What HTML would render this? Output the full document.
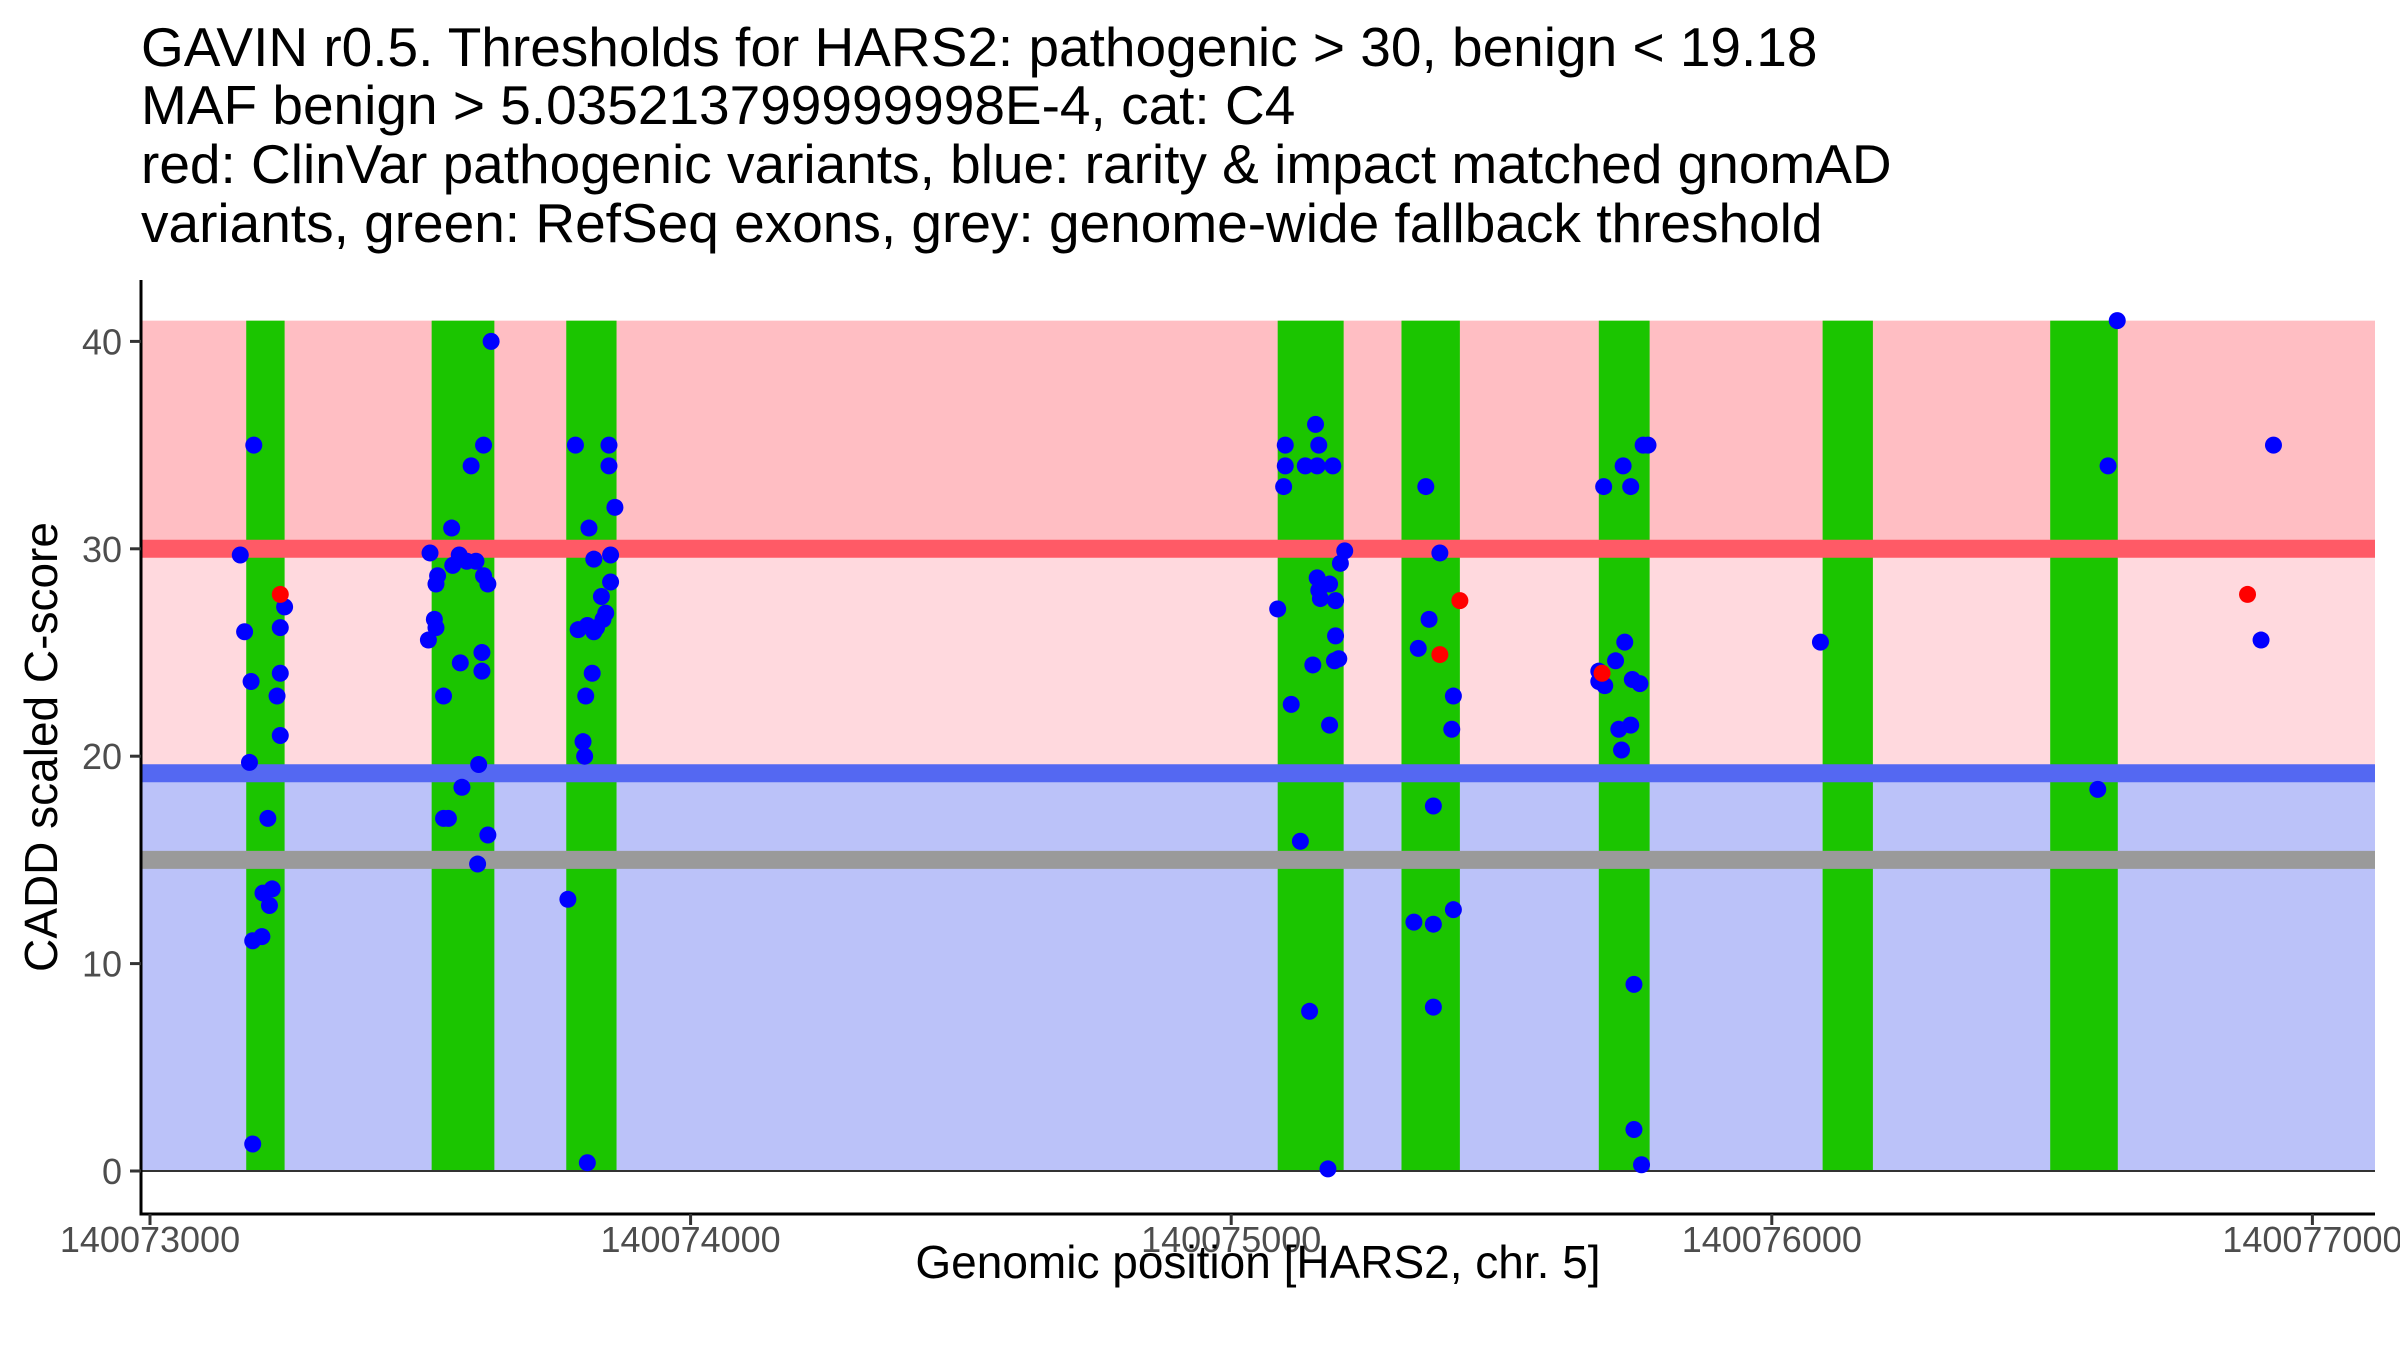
<!DOCTYPE html>
<html><head><meta charset="utf-8"><style>
body{margin:0;background:#fff}
svg text{font-family:"Liberation Sans",Arial,sans-serif}
</style></head><body>
<svg id="chart" width="2400" height="1350" viewBox="0 0 2400 1350" xmlns="http://www.w3.org/2000/svg">
<g font-size="55" fill="#000">
<text x="141" y="66">GAVIN r0.5. Thresholds for HARS2: pathogenic &gt; 30, benign &lt; 19.18</text>
<text x="141" y="124">MAF benign &gt; 5.035213799999998E-4, cat: C4</text>
<text x="141" y="183">red: ClinVar pathogenic variants, blue: rarity &amp; impact matched gnomAD</text>
<text x="141" y="242">variants, green: RefSeq exons, grey: genome-wide fallback threshold</text>
</g>
<g id="bands"></g>
<g id="exons"></g>
<g id="lines"></g>
<g id="points"></g>
<g id="axes"></g>
<text x="1258" y="1278" font-size="46" text-anchor="middle" fill="#000">Genomic position [HARS2, chr. 5]</text>
<text transform="translate(57,747) rotate(-90)" font-size="46" text-anchor="middle" fill="#000">CADD scaled C-score</text>
</svg>
<script>
const xBase = 140073000;
const xTicks = [140073000, 140074000, 140075000, 140076000, 140077000];
const yTicks = [0, 10, 20, 30, 40];
const thresholds = [30, 19.18, 15];
const exonStarts = [178, 521, 770, 2086, 2315, 2680, 3094, 3515];
const exonEnds = [249, 637, 863, 2208, 2423, 2774, 3187, 3640];
const gnomadPos = [167,175,192,187,184,190,190,207,209,218,221,226,235,241,241,241,249,
518,526,529,529,532,515,543,543,552,558,560,574,577,572,586,594,603,606,608,614,614,617,617,625,625,631,
773,787,792,801,804,806,809,809,812,818,821,821,826,835,838,843,849,849,852,852,860,
2086,2097,2100,2100,2111,2128,2137,2145,2151,2156,2159,2162,2159,2162,2165,2179,2182,2182,2188,2191,2193,2193,2199,2202,2210,
2338,2346,2360,2366,2374,2374,2374,2386,2408,2411,2411,
2680,2680,2689,2691,2711,2717,2722,2725,2728,2739,2739,2742,2745,2745,2756,2759,2762,2771,
3090,3603,3622,3639,3905,3928];
const gnomadScore = [29.7,26.0,35.0,23.6,19.7,11.1,1.3,11.3,13.4,17.0,12.8,13.6,22.9,26.2,24.0,21.0,27.2,
29.8,26.6,26.2,28.3,28.7,25.6,22.9,17.0,17.0,31.0,29.2,24.5,18.5,29.7,29.4,34.0,29.4,14.8,19.6,25.0,24.1,35.0,28.7,28.3,16.2,40.0,
13.1,35.0,26.1,20.7,20.0,22.9,26.3,0.4,31.0,24.0,29.5,26.0,26.2,27.7,26.6,26.9,35.0,34.0,28.4,29.7,32.0,
27.1,33.0,34.0,35.0,22.5,15.9,34.0,7.7,24.4,36.0,34.0,35.0,28.6,28.0,27.6,0.1,21.5,28.3,34.0,24.6,27.5,25.8,24.7,29.3,29.9,
12.0,25.2,33.0,26.6,11.9,17.6,7.9,29.8,21.3,22.9,12.6,
24.1,23.6,33.0,23.4,24.6,21.3,20.3,34.0,25.5,33.0,21.5,23.7,9.0,2.0,23.5,0.3,35.0,35.0,
25.5,18.4,34.0,41.0,25.6,35.0];
const clinvarPos = [241, 2386, 2423, 2686, 3880];
const clinvarScore = [27.8, 24.9, 27.5, 24.0, 27.8];

const NS='http://www.w3.org/2000/svg';
const L=141, R=2375, T=280, B=1214;
function sx(v){ return 150 + (v - xBase) / 1000 * 540.6; }
function sy(v){ return 1171 - v * 20.74; }
function mk(parent, tag, attrs){ const e=document.createElementNS(NS,tag); for(const k in attrs) e.setAttribute(k,attrs[k]); document.getElementById(parent).appendChild(e); return e; }

const yMax=41;
let e;
e=mk('bands','rect',{x:L,y:sy(yMax),width:R-L,height:sy(thresholds[0])-sy(yMax),fill:'#FFBEC3'});
 
e=mk('bands','rect',{x:L,y:sy(thresholds[0]),width:R-L,height:sy(thresholds[1])-sy(thresholds[0]),fill:'#FFD9DE'});
 
e=mk('bands','rect',{x:L,y:sy(thresholds[1]),width:R-L,height:sy(0)-sy(thresholds[1]),fill:'#BBC2F9'});
 

for(let i=0;i<exonStarts.length;i++){
  e=mk('exons','rect',{x:sx(xBase+exonStarts[i]),y:sy(yMax),width:sx(xBase+exonEnds[i])-sx(xBase+exonStarts[i]),height:sy(0)-sy(yMax),fill:'#1BC500'});
   
}
const lineCols=['#FF5A66','#5468F2','#9A9A9A'];
const lineNames=['pathogenic-threshold-line','benign-threshold-line','fallback-threshold-line'];
for(let i=0;i<3;i++){
  e=mk('lines','line',{x1:L,x2:R,y1:sy(thresholds[i]),y2:sy(thresholds[i]),stroke:lineCols[i],'stroke-width':18});
   
}
e=mk('lines','line',{x1:L,x2:R,y1:sy(0),y2:sy(0),stroke:'#333','stroke-width':2});
 

for(let i=0;i<gnomadPos.length;i++){
  e=mk('points','circle',{cx:sx(xBase+gnomadPos[i]),cy:sy(gnomadScore[i]),r:8.5,fill:'#0000FF'});
   
}
for(let i=0;i<clinvarPos.length;i++){
  e=mk('points','circle',{cx:sx(xBase+clinvarPos[i]),cy:sy(clinvarScore[i]),r:8.5,fill:'#FF0000'});
   
}
e=mk('axes','line',{x1:L,x2:L,y1:T,y2:B+1.5,stroke:'#000','stroke-width':3});
 
e=mk('axes','line',{x1:L-1.5,x2:R,y1:B,y2:B,stroke:'#000','stroke-width':3});
 
for(const t of yTicks){
  e=mk('axes','line',{x1:L-11,x2:L,y1:sy(t),y2:sy(t),stroke:'#333','stroke-width':3});
   
  e=mk('axes','text',{x:L-19,y:sy(t)+13,'font-size':36,'text-anchor':'end',fill:'#4D4D4D'});
  e.textContent=t;
   
}
for(const t of xTicks){
  e=mk('axes','line',{x1:sx(t),x2:sx(t),y1:B,y2:B+11,stroke:'#333','stroke-width':3});
   
  e=mk('axes','text',{x:sx(t),y:B+38,'font-size':36,'text-anchor':'middle',fill:'#4D4D4D'});
  e.textContent=t;
   
}
</script>
</body></html>
